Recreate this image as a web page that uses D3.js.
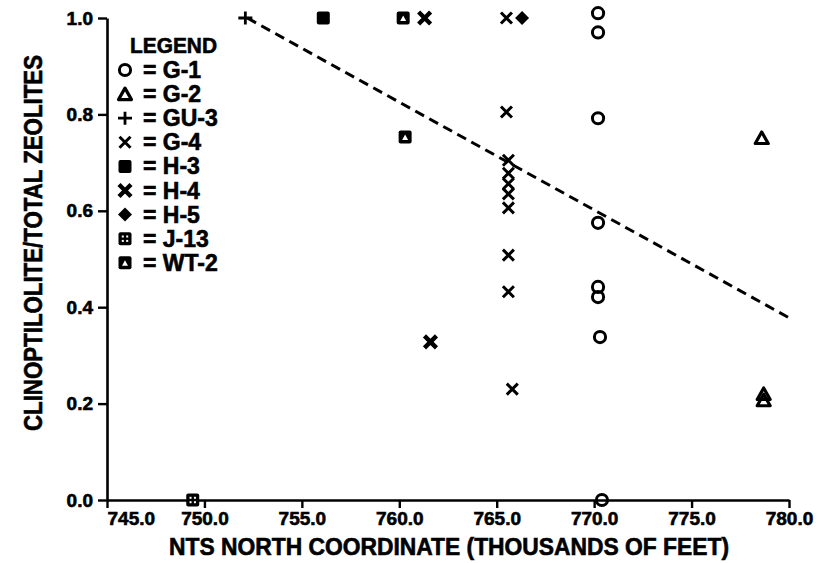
<!DOCTYPE html>
<html>
<head>
<meta charset="utf-8">
<script src="https://cdn.jsdelivr.net/npm/d3@7"></script>
<style>
  body { margin: 0; background: #fff; }
  svg { display: block; font-family: "Liberation Sans", Arial, sans-serif; font-weight: bold; }
  svg text { stroke: #000; stroke-width: 0.6px; }
</style>
</head>
<body>
<div id="chart"></div>
<script>
// Wells in legend order
const wells = ["G-1", "G-2", "GU-3", "G-4", "H-3", "H-4", "H-5", "J-13", "WT-2"];

// Samples per well: [north coordinate (thousands of ft), clinoptilolite fraction]
const g1 = [[770.2, 1.01], [770.2, 0.97], [770.2, 0.792], [770.2, 0.575], [770.2, 0.442], [770.2, 0.421], [770.3, 0.338], [770.4, 0.0]];
const g2 = [[778.6, 0.751], [778.7, 0.22], [778.7, 0.207]];
const gu3 = [[752.1, 1.0]];
const g4 = [[765.5, 1.0], [765.5, 0.805], [765.6, 0.705], [765.6, 0.678], [765.6, 0.656], [765.6, 0.635], [765.6, 0.606], [765.6, 0.508], [765.6, 0.432], [765.8, 0.23]];
const h3 = [[756.1, 1.0]];
const h4 = [[761.3, 1.0], [761.6, 0.328]];
const h5 = [[766.3, 1.0]];
const j13 = [[749.4, 0.0]];
const wt2 = [[760.2, 1.0], [760.3, 0.753]];

// Fitted trend (dashed)
const trendX = [752.2, 780.0];
const trendY = [1.0, 0.378];

const xTicks = [745, 750, 755, 760, 765, 770, 775, 780];
const yTicks = [0, 0.2, 0.4, 0.6, 0.8, 1.0];

const width = 826, height = 563;
const margin = { top: 18, right: 37, bottom: 63, left: 107 };

const svg = d3.select("#chart").append("svg")
  .attr("width", width)
  .attr("height", height);

const x = d3.scaleLinear().domain([745, 780]).range([margin.left, width - margin.right]);
const y = d3.scaleLinear().domain([0, 1]).range([height - margin.bottom, margin.top]);

// Axes
const xAxis = svg.append("g")
  .attr("transform", `translate(0,${height - margin.bottom})`)
  .call(d3.axisBottom(x).tickValues(xTicks).tickFormat(d3.format(".1f")).tickSize(8).tickSizeOuter(0).tickPadding(4));

const yAxis = svg.append("g")
  .attr("transform", `translate(${margin.left},0)`)
  .call(d3.axisLeft(y).tickValues(yTicks).tickFormat(d3.format(".1f")).tickSize(9).tickSizeOuter(0).tickPadding(5));

[xAxis, yAxis].forEach(a => {
  a.select(".domain").attr("stroke", "#000").attr("stroke-width", 2.6);
  a.selectAll(".tick line").attr("stroke", "#000").attr("stroke-width", 2.4);
  a.selectAll("text").attr("fill", "#000").attr("font-size", 19).attr("font-family", "Liberation Sans, Arial, sans-serif").attr("font-weight", "bold");
});
// first x label sits to the right of the y axis
xAxis.selectAll(".tick").filter(d => d === 745).select("text").attr("text-anchor", "start").attr("x", 0);

// Axis titles
svg.append("text")
  .attr("x", 449).attr("y", 555)
  .attr("text-anchor", "middle")
  .attr("font-size", 23)
  .attr("textLength", 560).attr("lengthAdjust", "spacingAndGlyphs")
  .text("NTS NORTH COORDINATE (THOUSANDS OF FEET)");

svg.append("text")
  .attr("transform", "translate(42,243) rotate(-90)")
  .attr("text-anchor", "middle")
  .attr("font-size", 25)
  .attr("textLength", 376).attr("lengthAdjust", "spacingAndGlyphs")
  .text("CLINOPTILOLITE/TOTAL ZEOLITES");

// Trend line
svg.append("line")
  .attr("x1", x(trendX[0])).attr("y1", y(trendY[0]))
  .attr("x2", x(trendX[1])).attr("y2", y(trendY[1]))
  .attr("stroke", "#000").attr("stroke-width", 3)
  .attr("stroke-dasharray", "10,6");

// Marker drawing
function drawMark(g, well) {
  const k = "#000";
  switch (well) {
    case "G-1":
      g.append("circle").attr("r", 5.6).attr("fill", "none").attr("stroke", k).attr("stroke-width", 3);
      break;
    case "G-2":
      g.append("path").attr("d", "M0,-6L6.5,5.5L-6.5,5.5Z").attr("fill", "none").attr("stroke", k).attr("stroke-width", 3.2).attr("stroke-linejoin", "round");
      break;
    case "GU-3":
      g.append("path").attr("d", "M-7,0H7M0,-6.5V6.5").attr("stroke", k).attr("stroke-width", 2.8);
      break;
    case "G-4":
      g.append("path").attr("d", "M-5.5,-5.5L5.5,5.5M-5.5,5.5L5.5,-5.5").attr("stroke", k).attr("stroke-width", 3);
      break;
    case "H-3":
      g.append("rect").attr("x", -6.5).attr("y", -6.5).attr("width", 13).attr("height", 13).attr("rx", 2).attr("fill", k);
      break;
    case "H-4":
      g.append("path").attr("d", "M-6,-6L6,6M-6,6L6,-6").attr("stroke", k).attr("stroke-width", 4.4);
      break;
    case "H-5":
      g.append("path").attr("d", "M0,-7L7,0L0,7L-7,0Z").attr("fill", k);
      break;
    case "J-13":
      g.append("rect").attr("x", -6.5).attr("y", -6.5).attr("width", 13).attr("height", 13).attr("rx", 2).attr("fill", k);
      [[-3.2, -3.2], [1.2, -3.2], [-3.2, 1.2], [1.2, 1.2]].forEach(p =>
        g.append("rect").attr("x", p[0]).attr("y", p[1]).attr("width", 2).attr("height", 2).attr("fill", "#fff"));
      break;
    case "WT-2":
      g.append("rect").attr("x", -6.5).attr("y", -6.5).attr("width", 13).attr("height", 13).attr("rx", 2).attr("fill", k);
      g.append("path").attr("d", "M0,-2.5L3,3L-3,3Z").attr("fill", "#fff");
      break;
  }
}

const seriesData = [g1, g2, gu3, g4, h3, h4, h5, j13, wt2];

wells.forEach((w, i) => {
  svg.append("g").selectAll("g")
    .data(seriesData[i])
    .join("g")
    .attr("transform", d => `translate(${x(d[0])},${y(d[1])})`)
    .each(function() { drawMark(d3.select(this), w); });
});

// Legend
const legend = svg.append("g");
legend.append("text")
  .attr("x", 130).attr("y", 53)
  .attr("font-size", 22)
  .attr("textLength", 87).attr("lengthAdjust", "spacingAndGlyphs")
  .text("LEGEND");

wells.forEach((w, i) => {
  const cy = 70 + i * 24.1;
  drawMark(legend.append("g").attr("transform", `translate(125,${cy})`), w);
  legend.append("text")
    .attr("x", 143).attr("y", cy + 8)
    .attr("font-size", 23)
    .text("= " + w);
});
</script>
</body>
</html>
